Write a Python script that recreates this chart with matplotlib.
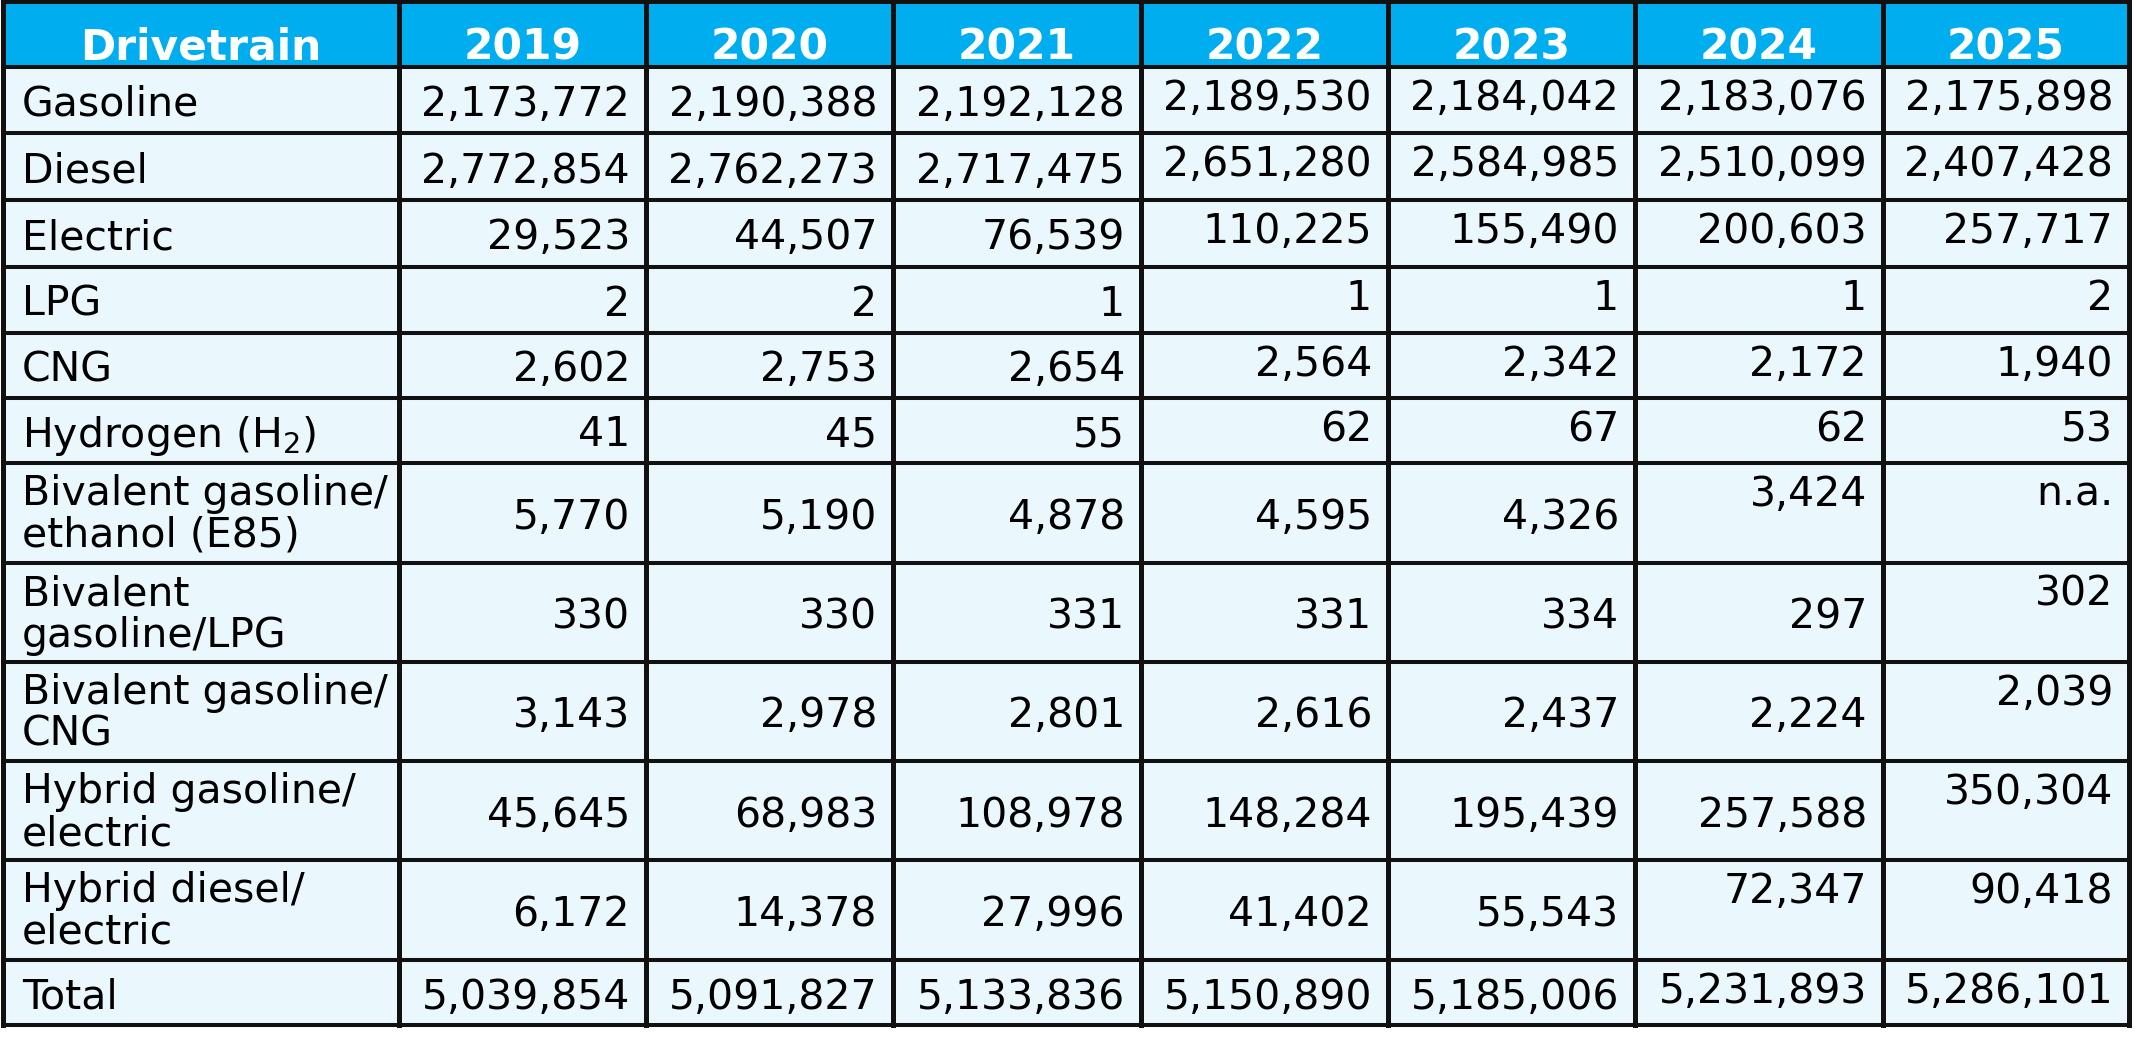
import matplotlib
matplotlib.use("Agg")
from matplotlib import pyplot as plt
from matplotlib.patches import Rectangle

# table content
header = ["Drivetrain", "2019", "2020", "2021", "2022", "2023", "2024", "2025"]

drivetrains = ["Gasoline", "Diesel", "Electric", "LPG", "CNG", "Hydrogen (H$_2$)",
               "Bivalent gasoline/\nethanol (E85)", "Bivalent\ngasoline/LPG",
               "Bivalent gasoline/\nCNG", "Hybrid gasoline/\nelectric",
               "Hybrid diesel/\nelectric", "Total"]

v2019 = [2173772, 2772854, 29523, 2, 2602, 41, 5770, 330, 3143, 45645, 6172, 5039854]
v2020 = [2190388, 2762273, 44507, 2, 2753, 45, 5190, 330, 2978, 68983, 14378, 5091827]
v2021 = [2192128, 2717475, 76539, 1, 2654, 55, 4878, 331, 2801, 108978, 27996, 5133836]
v2022 = [2189530, 2651280, 110225, 1, 2564, 62, 4595, 331, 2616, 148284, 41402, 5150890]
v2023 = [2184042, 2584985, 155490, 1, 2342, 67, 4326, 334, 2437, 195439, 55543, 5185006]
v2024 = [2183076, 2510099, 200603, 1, 2172, 62, 3424, 297, 2224, 257588, 72347, 5231893]
v2025 = [2175898, 2407428, 257717, 2, 1940, 53, None, 302, 2039, 350304, 90418, 5286101]

years = [v2019, v2020, v2021, v2022, v2023, v2024, v2025]

# layout (pixels, origin top-left)
col_edges = [3, 399, 646, 893, 1141, 1388, 1635, 1883, 2129]
row_edges = [2, 67, 133, 200, 267, 333, 398, 463, 563, 662, 761, 860, 960, 1025]

# cells whose number sits at the top of the cell instead of the middle
top_cells = {(r, c) for r in range(6) for c in (3, 4, 5, 6)}
top_cells |= {(6, 5), (6, 6), (7, 6), (8, 6), (9, 6), (10, 5), (10, 6), (11, 5), (11, 6)}

HEAD_BLUE = "#00AEEF"
CELL_BG = "#EAF8FE"
LINE = "#111111"

W, H = 2136, 1043
fig = plt.figure(figsize=(W/100, H/100), dpi=100)
ax = fig.add_axes([0, 0, 1, 1])
ax.set_xlim(0, W)
ax.set_ylim(H, 0)
ax.axis("off")

x0, x1 = col_edges[0], col_edges[-1]
ax.add_patch(Rectangle((x0, row_edges[0]), x1-x0, row_edges[1]-row_edges[0],
                       color=HEAD_BLUE, zorder=1, lw=0))
ax.add_patch(Rectangle((x0, row_edges[1]), x1-x0, row_edges[-1]-row_edges[1],
                       color=CELL_BG, zorder=1, lw=0))

# header
for i, txt in enumerate(header):
    xc = (col_edges[i] + col_edges[i+1]) / 2
    ax.text(xc, 60, txt, ha="center", va="baseline", color="white",
            fontsize=30.5, fontweight="bold", family="DejaVu Sans", zorder=3)

FS = 29.5
for r, label in enumerate(drivetrains):
    top, bot = row_edges[r+1], row_edges[r+2]
    mid = (top + bot) / 2
    lines = label.split("\n")
    if len(lines) == 1:
        ax.text(22, mid + 16, label, ha="left", va="baseline", fontsize=FS,
                family="DejaVu Sans", zorder=2)
    else:
        for k, ln in enumerate(lines):
            ax.text(22, top + 42 + 42*k, ln, ha="left", va="baseline", fontsize=FS,
                    family="DejaVu Sans", zorder=2)

    for c, vals in enumerate(years):
        v = vals[r]
        s = "n.a." if v is None else "{:,}".format(v)
        xr = col_edges[c+2] - 16
        y = top + 43 if (r, c) in top_cells else mid + 16
        ax.text(xr, y, s, ha="right", va="baseline", fontsize=FS,
                family="DejaVu Sans", zorder=2)

# grid lines
for y in row_edges:
    ax.plot([x0, x1], [y, y], color=LINE, lw=2.9, solid_capstyle="projecting", zorder=4)
for x in col_edges:
    ax.plot([x, x], [row_edges[0], row_edges[-1]], color=LINE, lw=3.6,
            solid_capstyle="projecting", zorder=4)

plt.savefig("out.png", dpi=100)
plt.close()
